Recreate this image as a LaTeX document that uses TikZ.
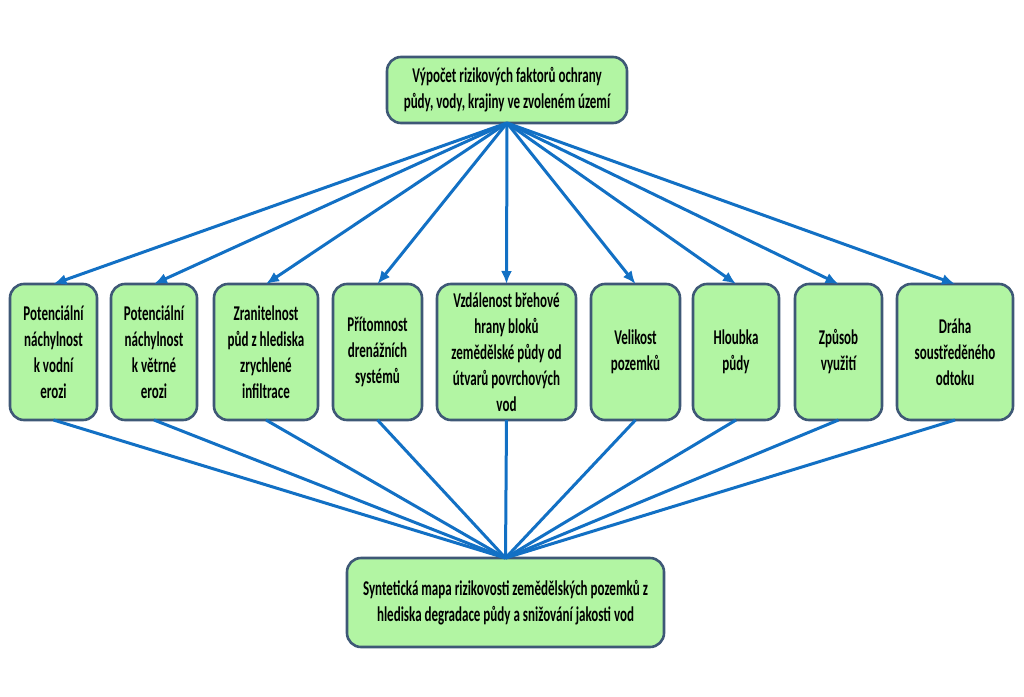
\documentclass[tikz,border=0pt]{standalone}
\usepackage{fontspec}
\setmainfont{Carlito}[FakeStretch=0.62]
\usetikzlibrary{arrows.meta,positioning}
\definecolor{zelena}{RGB}{178,245,163}
\definecolor{okraj}{RGB}{62,88,118}
\definecolor{modra}{RGB}{18,112,196}

\begin{document}
\begin{tikzpicture}[x=1pt, y=1pt,
        node distance=15pt,
        krabice/.style={draw=okraj, line width=2.6pt, fill=zelena, rounded corners=14pt, align=center, inner sep=2pt, outer sep=0pt, font=\fontsize{21}{26}\selectfont\bfseries},
        faktor/.style={krabice, minimum height=136pt},
        sipka/.style={-{Latex[length=13pt,width=11pt]}, draw=modra, line width=3pt},
        cara/.style={draw=modra, line width=3pt}
    ]
        \useasboundingbox (0,0) rectangle (1024,-696);

        \node[krabice, minimum width=240pt, minimum height=66pt] (vypocet) at (507,-90) {Výpočet rizikových faktorů ochrany\\půdy, vody, krajiny ve zvoleném území};

        \node[faktor, minimum width=87pt, anchor=west] (f1) at (10,-352) {Potenciální\\náchylnost\\k vodní\\erozi};
        \node[faktor, minimum width=86pt, right=14pt of f1] (f2) {Potenciální\\náchylnost\\k větrné\\erozi};
        \node[faktor, minimum width=104pt, right=17pt of f2] (f3) {Zranitelnost\\půd z hlediska\\zrychlené\\infiltrace};
        \node[faktor, minimum width=89pt, right=of f3] (f4) {Přítomnost\\drenážních\\systémů};
        \node[faktor, minimum width=139pt, right=of f4] (f5) {Vzdálenost břehové\\hrany bloků\\zemědělské půdy od\\útvarů povrchových\\vod};
        \node[faktor, minimum width=89pt, right=of f5] (f6) {Velikost\\pozemků};
        \node[faktor, minimum width=86pt, right=13pt of f6] (f7) {Hloubka\\půdy};
        \node[faktor, minimum width=87pt, right=16pt of f7] (f8) {Způsob\\využití};
        \node[faktor, minimum width=116pt, right=of f8] (f9) {Dráha\\soustředěného\\odtoku};

        \node[krabice, minimum width=317pt, minimum height=89pt] (mapa) at (505.5,-602.5) {Syntetická mapa rizikovosti zemědělských pozemků z\\hlediska degradace půdy a snižování jakosti vod};

        \foreach \i in {1,...,9}{
            \draw[sipka] (vypocet.south) -- (f\i.north);
            \draw[cara] (f\i.south) -- (mapa.north);
        }
    \end{tikzpicture}
\end{document}
